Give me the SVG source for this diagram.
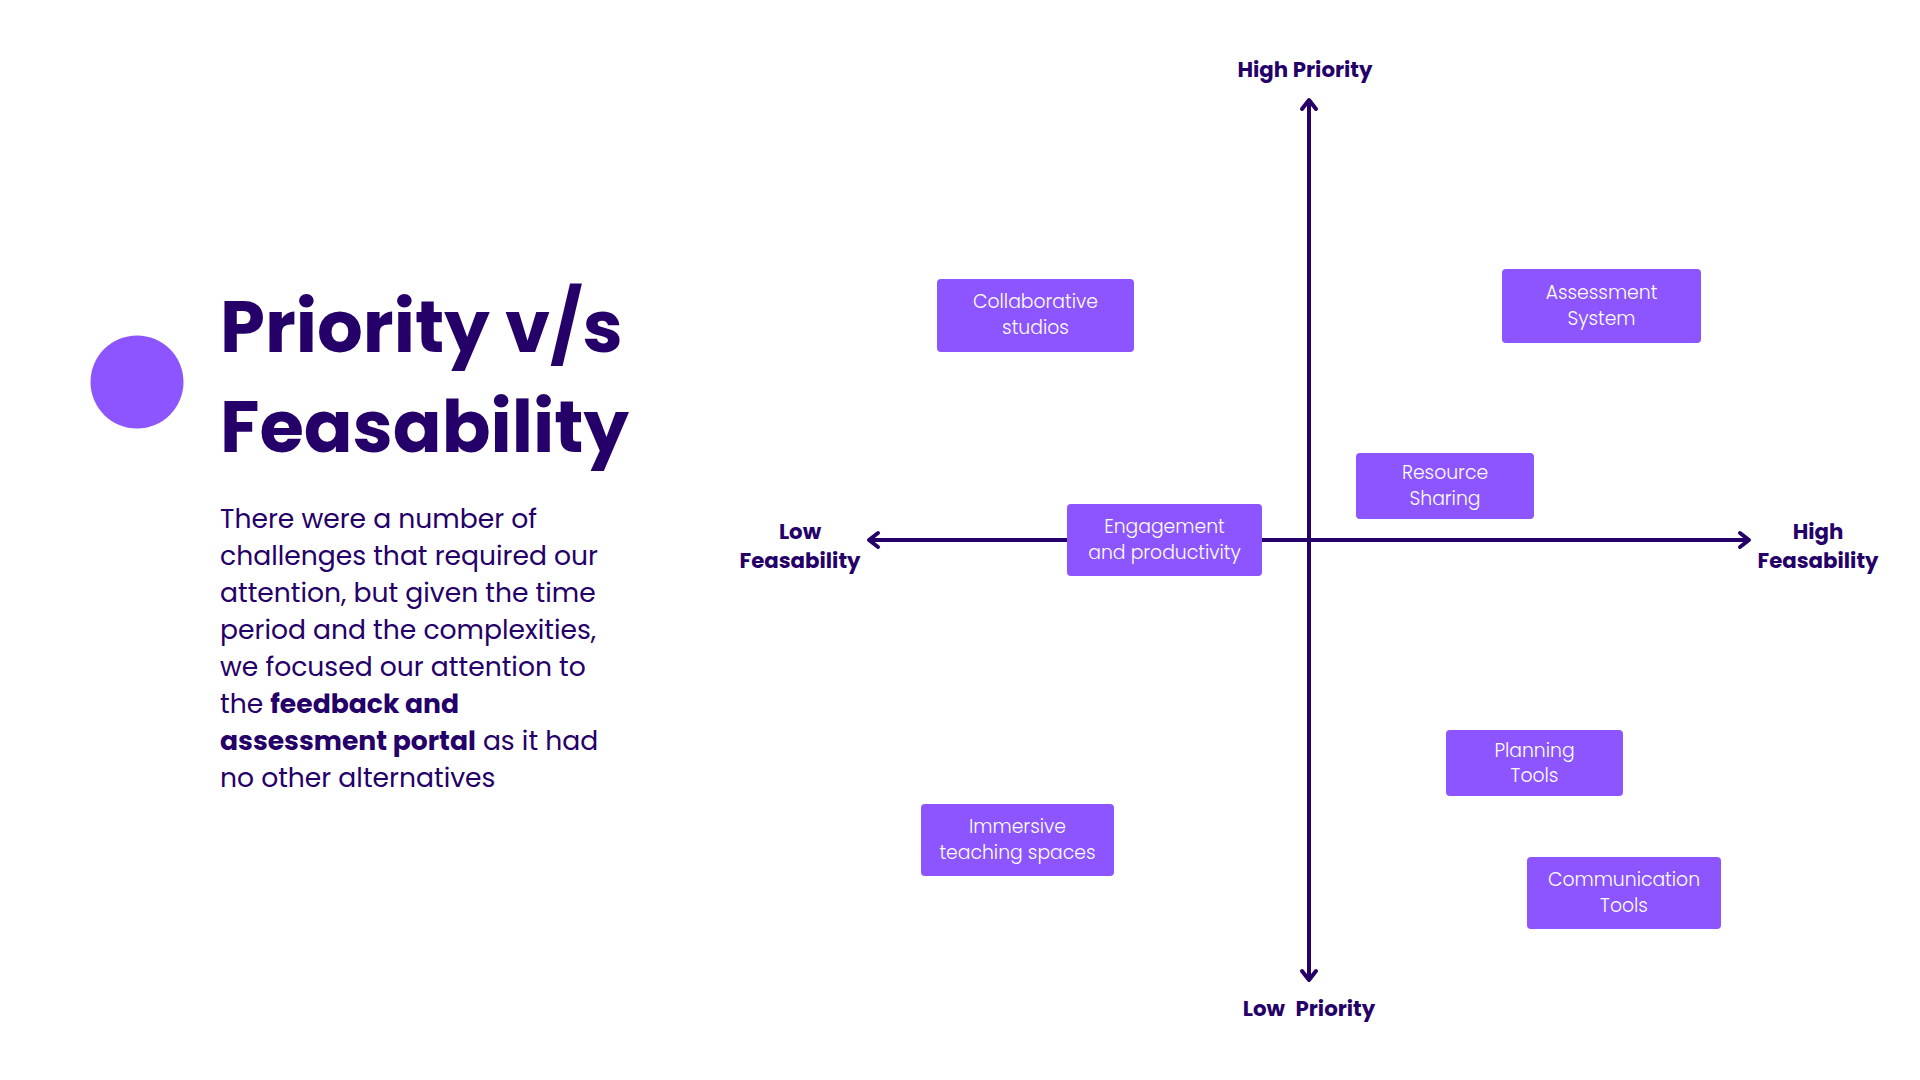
<svg xmlns="http://www.w3.org/2000/svg" width="1920" height="1080" viewBox="0 0 1920 1080">
<style>
.bg{fill:#ffffff}
.title{font-family:"Poppins","Open Sans","Liberation Sans",sans-serif;font-weight:700;font-size:72px;fill:#250069}
.body{font-family:"Poppins","Open Sans","Liberation Sans",sans-serif;font-weight:400;font-size:26.6px;fill:#250069}
.body .b{font-weight:700}
.axlbl{font-family:"Poppins","Open Sans","Liberation Sans",sans-serif;font-weight:700;font-size:21.3px;fill:#250069;text-anchor:middle}
.box{fill:#8c55ff}
.boxtxt{font-family:"Poppins","Open Sans","Liberation Sans",sans-serif;font-weight:300;font-size:18.8px;fill:#ffffff;text-anchor:middle}
.axis{stroke:#250069;stroke-width:4;fill:none}
.head{stroke:#250069;stroke-width:4;fill:none;stroke-linecap:round;stroke-linejoin:round}
</style>
<defs>
<marker id="arr" markerUnits="userSpaceOnUse" markerWidth="30" markerHeight="30" viewBox="-15 -15 30 30" refX="0" refY="0" orient="auto-start-reverse">
<path class="head" d="M-9,-7 L0,0 L-9,7"/>
</marker>
</defs>
<rect class="bg" x="0" y="0" width="1920" height="1080"/>

<g id="intro">
<circle cx="137" cy="382" r="46.5" fill="#8c55ff"/>
<text class="title" x="220" y="352">Priority v/s</text>
<text class="title" x="220" y="452">Feasability</text>
<text class="body" x="220" y="528">There were a number of</text>
<text class="body" x="220" y="565">challenges that required our</text>
<text class="body" x="220" y="602">attention, but given the time</text>
<text class="body" x="220" y="639">period and the complexities,</text>
<text class="body" x="220" y="676">we focused our attention to</text>
<text class="body" x="220" y="713">the <tspan class="b">feedback and</tspan></text>
<text class="body" x="220" y="750"><tspan class="b">assessment portal</tspan> as it had</text>
<text class="body" x="220" y="787">no other alternatives</text>
</g>

<g id="connectors">
<line class="axis" x1="1309" y1="100" x2="1309" y2="980" marker-start="url(#arr)" marker-end="url(#arr)"/>
<line class="axis" x1="869" y1="540" x2="1749" y2="540" marker-start="url(#arr)" marker-end="url(#arr)"/>
</g>

<g id="axis-labels">
<text class="axlbl" x="1305" y="77">High Priority</text>
<text class="axlbl" x="1309" y="1016" word-spacing="6">Low Priority</text>
<text class="axlbl" x="800" y="539">Low</text>
<text class="axlbl" x="800" y="568">Feasability</text>
<text class="axlbl" x="1818" y="539">High</text>
<text class="axlbl" x="1818" y="568">Feasability</text>
</g>

<g id="collaborative-studios">
<rect class="box" x="937" y="279" width="197" height="73" rx="4"/>
<text class="boxtxt" x="1035.5" y="308">Collaborative</text>
<text class="boxtxt" x="1035.5" y="334">studios</text>
</g>

<g id="assessment-system">
<rect class="box" x="1502" y="269" width="199" height="74" rx="4"/>
<text class="boxtxt" x="1601.5" y="299">Assessment</text>
<text class="boxtxt" x="1601.5" y="325">System</text>
</g>

<g id="resource-sharing">
<rect class="box" x="1356" y="453" width="178" height="66" rx="4"/>
<text class="boxtxt" x="1445" y="479">Resource</text>
<text class="boxtxt" x="1445" y="505">Sharing</text>
</g>

<g id="engagement-productivity">
<rect class="box" x="1067" y="504" width="195" height="72" rx="4"/>
<text class="boxtxt" x="1164.5" y="533">Engagement</text>
<text class="boxtxt" x="1164.5" y="559">and productivity</text>
</g>

<g id="planning-tools">
<rect class="box" x="1446" y="730" width="177" height="66" rx="4"/>
<text class="boxtxt" x="1534.5" y="757">Planning</text>
<text class="boxtxt" x="1534.5" y="782">Tools</text>
</g>

<g id="immersive-teaching-spaces">
<rect class="box" x="921" y="804" width="193" height="72" rx="4"/>
<text class="boxtxt" x="1017.5" y="833">Immersive</text>
<text class="boxtxt" x="1017.5" y="859">teaching spaces</text>
</g>

<g id="communication-tools">
<rect class="box" x="1527" y="857" width="194" height="72" rx="4"/>
<text class="boxtxt" x="1624" y="886">Communication</text>
<text class="boxtxt" x="1624" y="912">Tools</text>
</g>
</svg>
